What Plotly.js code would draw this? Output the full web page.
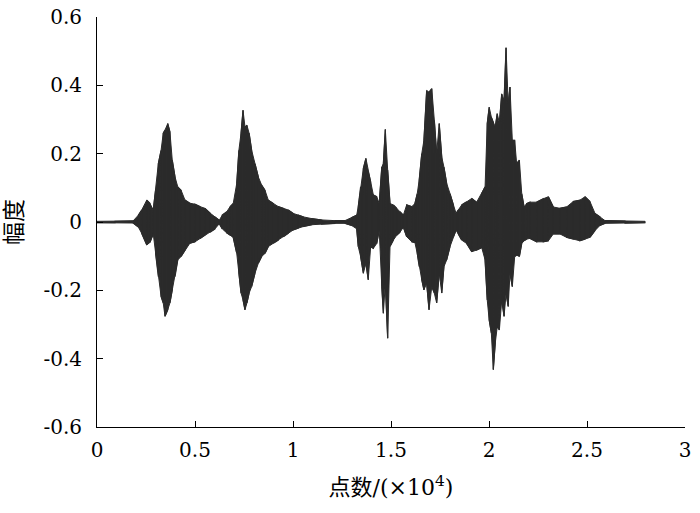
<!DOCTYPE html>
<html>
<head>
<meta charset="utf-8">
<script src="https://cdn.plot.ly/plotly-3.0.1.min.js"></script>
<style>html,body{margin:0;padding:0;background:#fff;}#chart{width:700px;height:513px;}</style>
</head>
<body>
<div id="chart"></div>
<script>
// Sample position (x 10^4 points) and the upper / lower envelope of the waveform
const samplePos = [0.000,0.092,0.184,0.211,0.228,0.254,0.270,0.287,0.299,0.313,0.327,0.338,0.347,0.361,0.372,0.384,0.398,0.412,0.429,0.449,0.474,0.500,0.526,0.551,0.577,0.602,0.624,0.639,0.662,0.679,0.695,0.713,0.724,0.735,0.745,0.755,0.765,0.776,0.789,0.806,0.823,0.840,0.857,0.874,0.900,0.925,0.951,0.976,1.002,1.027,1.053,1.095,1.146,1.214,1.265,1.299,1.325,1.333,1.345,1.359,1.372,1.384,1.396,1.410,1.427,1.440,1.453,1.461,1.471,1.483,1.495,1.512,1.529,1.546,1.563,1.580,1.606,1.622,1.634,1.644,1.657,1.668,1.682,1.694,1.708,1.721,1.733,1.746,1.759,1.770,1.784,1.801,1.818,1.832,1.843,1.861,1.886,1.912,1.937,1.963,1.980,1.991,2.001,2.012,2.022,2.032,2.042,2.053,2.065,2.077,2.087,2.098,2.107,2.119,2.131,2.141,2.155,2.167,2.179,2.192,2.209,2.243,2.277,2.303,2.328,2.362,2.396,2.430,2.464,2.490,2.515,2.541,2.566,2.592,2.694,2.796];
const upperAmp = [0.002,0.002,0.003,0.020,0.035,0.064,0.055,0.035,0.093,0.171,0.210,0.260,0.269,0.288,0.264,0.181,0.132,0.103,0.093,0.064,0.055,0.052,0.045,0.040,0.026,0.015,0.005,0.020,0.030,0.045,0.054,0.113,0.210,0.260,0.327,0.278,0.283,0.260,0.210,0.171,0.132,0.108,0.093,0.064,0.054,0.045,0.040,0.035,0.025,0.020,0.015,0.010,0.006,0.004,0.004,0.013,0.020,0.045,0.103,0.157,0.186,0.147,0.118,0.079,0.074,0.054,0.161,0.171,0.271,0.152,0.054,0.050,0.040,0.030,0.020,0.050,0.045,0.054,0.083,0.123,0.200,0.239,0.385,0.380,0.390,0.298,0.200,0.288,0.190,0.161,0.113,0.083,0.050,0.025,0.035,0.050,0.059,0.069,0.058,0.083,0.103,0.288,0.336,0.307,0.290,0.278,0.317,0.290,0.375,0.356,0.510,0.346,0.395,0.239,0.239,0.171,0.181,0.083,0.044,0.054,0.058,0.058,0.068,0.074,0.044,0.040,0.044,0.060,0.064,0.074,0.060,0.025,0.015,0.004,0.003,0.002];
const lowerAmp = [-0.002,-0.002,-0.003,-0.015,-0.033,-0.067,-0.060,-0.035,-0.092,-0.160,-0.218,-0.237,-0.276,-0.257,-0.237,-0.199,-0.160,-0.111,-0.101,-0.082,-0.062,-0.058,-0.048,-0.038,-0.030,-0.020,-0.005,-0.020,-0.032,-0.038,-0.045,-0.092,-0.150,-0.208,-0.228,-0.257,-0.237,-0.208,-0.189,-0.150,-0.121,-0.101,-0.092,-0.072,-0.062,-0.053,-0.043,-0.033,-0.023,-0.018,-0.013,-0.008,-0.006,-0.004,-0.004,-0.010,-0.020,-0.072,-0.101,-0.150,-0.121,-0.169,-0.073,-0.077,-0.063,-0.024,-0.189,-0.267,-0.179,-0.340,-0.072,-0.053,-0.039,-0.030,-0.015,-0.043,-0.058,-0.060,-0.092,-0.131,-0.169,-0.199,-0.179,-0.257,-0.189,-0.208,-0.237,-0.150,-0.208,-0.131,-0.111,-0.072,-0.043,-0.024,-0.035,-0.053,-0.063,-0.087,-0.082,-0.075,-0.111,-0.228,-0.287,-0.325,-0.432,-0.354,-0.307,-0.316,-0.228,-0.276,-0.209,-0.247,-0.150,-0.189,-0.101,-0.097,-0.101,-0.063,-0.055,-0.050,-0.048,-0.058,-0.058,-0.055,-0.035,-0.035,-0.045,-0.050,-0.055,-0.050,-0.045,-0.025,-0.010,-0.004,-0.003,-0.002];

const xTickVals = [0, 0.5, 1, 1.5, 2, 2.5, 3];
const xTickText = ["0", "0.5", "1", "1.5", "2", "2.5", "3"];
const yTickVals = [-0.6, -0.4, -0.2, 0, 0.2, 0.4, 0.6];
const yTickText = ["-0.6", "-0.4", "-0.2", "0", "0.2", "0.4", "0.6"];

const waveColor = '#2b2b2b';

// waveform body: area between the two envelopes
const upperTrace = {
  x: samplePos, y: upperAmp, type: 'scatter', mode: 'lines',
  line: {color: waveColor, width: 1}, hoverinfo: 'skip'
};
const lowerTrace = {
  x: samplePos, y: lowerAmp, type: 'scatter', mode: 'lines',
  line: {color: waveColor, width: 1}, fill: 'tonexty', fillcolor: waveColor, hoverinfo: 'skip'
};

// oscillation strokes swinging between the envelopes at each sample position
const wx = [], wy = [];
for (let i = 0; i < samplePos.length; i++) {
  wx.push(samplePos[i], samplePos[i]);
  if (i % 2 === 0) wy.push(upperAmp[i], lowerAmp[i]);
  else wy.push(lowerAmp[i], upperAmp[i]);
}
const strokeTrace = {
  x: wx, y: wy, type: 'scatter', mode: 'lines',
  line: {color: waveColor, width: 1.2}, hoverinfo: 'skip'
};

const latinFam = 'DejaVu Serif';
const titleFam = 'DejaVu Serif, Noto Sans CJK SC';

const axisCommon = {
  showline: true, linecolor: '#000', linewidth: 1,
  ticks: 'inside', ticklen: 6, tickwidth: 1, tickcolor: '#000',
  showgrid: false, zeroline: false, mirror: false,
  tickfont: {family: latinFam, size: 20, color: '#000'}
};

const layout = {
  width: 700, height: 513,
  font: {family: latinFam, size: 20, color: '#000'},
  margin: {l: 97, r: 15, t: 17, b: 86},
  paper_bgcolor: '#fff', plot_bgcolor: '#fff',
  showlegend: false,
  xaxis: Object.assign({}, axisCommon, {
    range: [0, 3], tickmode: 'array', tickvals: xTickVals, ticktext: xTickText,
    ticklabelstandoff: 5,
    title: {text: '点数/(×10<sup>4</sup>)', font: {family: titleFam, size: 22, color: '#000'}, standoff: 18}
  }),
  yaxis: Object.assign({}, axisCommon, {
    range: [-0.6, 0.6], tickmode: 'array', tickvals: yTickVals, ticktext: yTickText,
    ticklabelstandoff: 10,
    title: {text: '幅度', font: {family: titleFam, size: 23, color: '#000'}, standoff: 14}
  })
};

Plotly.newPlot('chart', [upperTrace, lowerTrace, strokeTrace], layout, {staticPlot: true, displayModeBar: false});
</script>
</body>
</html>
